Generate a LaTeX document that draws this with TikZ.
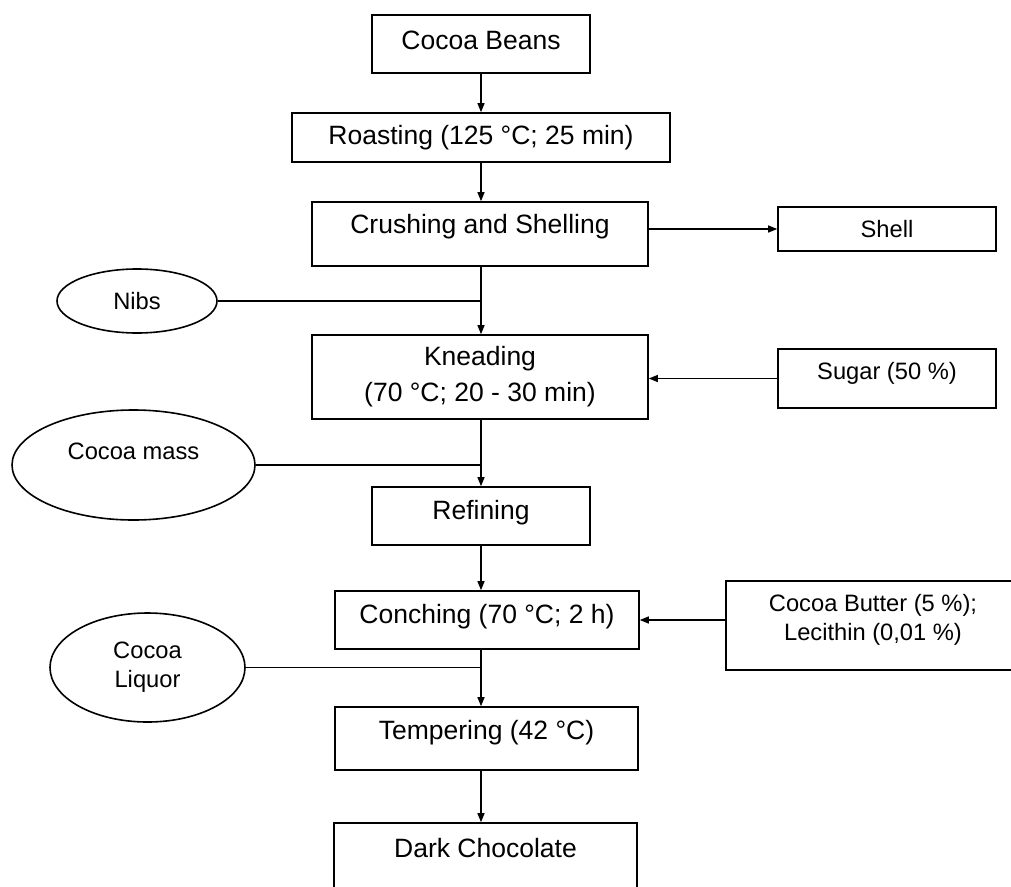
\documentclass[tikz,border=0pt]{standalone}
\usepackage{fontspec}
\setmainfont{Liberation Sans}
\usetikzlibrary{shapes,arrows.meta}
\newcommand{\bigtxt}{\fontsize{26.5pt}{36pt}\selectfont}
\newcommand{\smalltxt}{\fontsize{23.7pt}{29pt}\selectfont}
\tikzset{stage/.style={draw,line width=1.6pt,inner sep=0pt,align=center,font=\bigtxt},
  input/.style={draw,line width=1.6pt,inner sep=0pt,align=center,font=\smalltxt},
  product/.style={input,ellipse},
  flow/.style={line width=1.3pt,-{Triangle[length=9pt,width=7pt]}},
  feedline/.style={line width=1.3pt}}
\begin{document}
\begin{tikzpicture}[x=1pt,y=-1pt]
    \useasboundingbox (0,0) rectangle (1011,886);
    \clip (0,0) rectangle (1011,886);
    \node[stage,minimum width=218,minimum height=58,text depth=8pt] (beans) at (481,44) {Cocoa Beans};
    \node[stage,minimum width=378,minimum height=49] (roast) at (481,137.5) {Roasting (125 °C; 25 min)};
    \node[stage,minimum width=336,minimum height=64,text depth=19.6pt] (crush) at (480,234) {Crushing and Shelling};
    \node[input,minimum width=218,minimum height=44] (shell) at (887,229) {Shell};
    \node[product,minimum width=160,minimum height=64] (nibs) at (137,301) {Nibs};
    \node[stage,minimum width=336,minimum height=84] (knead) at (480,377) {Kneading\\(70 °C; 20 - 30 min)};
    \node[input,minimum width=218,minimum height=59,text depth=16pt] (sugar) at (887,378.5) {Sugar (50 \%)};
    \node[product,minimum width=243,minimum height=110,text depth=28pt] (mass) at (133.5,465) {Cocoa mass};
    \node[stage,minimum width=218,minimum height=58,text depth=11.6pt] (refine) at (481,516) {Refining};
    \node[stage,minimum width=304,minimum height=58,text depth=11.6pt] (conch) at (487,620) {Conching (70 °C; 2 h)};
    \node[input,minimum width=294,minimum height=89,
      label={[font=\smalltxt,align=center,yshift=6pt]center:Cocoa Butter (5 \%);\\Lecithin (0,01 \%)}] (butter) at (873,625.5) {};
    \node[product,minimum width=195,minimum height=109] (liquor) at (147.5,667.5) {Cocoa\\Liquor};
    \node[stage,minimum width=303,minimum height=63,text depth=16.6pt] (temper) at (486.5,738.5) {Tempering (42 °C)};
    \node[stage,minimum width=303,minimum height=76,text depth=26pt] (dark) at (485.5,861) {Dark Chocolate};

    \draw[flow] (beans.south) -- (beans.south |- roast.north);
    \draw[flow] (roast.south) -- (roast.south |- crush.north);
    \draw[flow] (crush.east |- shell.west) -- (shell.west);
    \draw[flow] (beans |- crush.south) -- (beans |- knead.north);
    \draw[feedline] (nibs.east) -- (nibs.east -| beans);
    \draw[flow] (sugar.west) -- (sugar.west -| knead.east);
    \draw[flow] (beans |- knead.south) -- (beans |- refine.north);
    \draw[feedline] (mass.east) -- (mass.east -| beans);
    \draw[flow] (refine.south) -- (refine.south |- conch.north);
    \draw[flow] (butter.west |- conch.east) -- (conch.east);
    \draw[flow] (beans |- conch.south) -- (beans |- temper.north);
    \draw[feedline] (liquor.east) -- (liquor.east -| beans);
    \draw[flow] (beans |- temper.south) -- (beans |- dark.north);
\end{tikzpicture}
\end{document}
